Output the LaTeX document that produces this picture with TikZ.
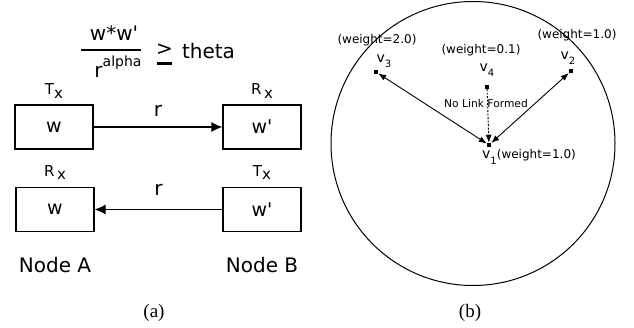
\documentclass[tikz,border=0pt]{standalone}
\usepackage{fontspec}
\setmainfont{Liberation Serif}
\setsansfont{DejaVu Sans}
\usepackage{tikz}
\usetikzlibrary{arrows.meta}
\usetikzlibrary{positioning}
\tikzstyle{box}    = [rectangle, draw, line width=1.2pt, minimum width=78pt, minimum height=44pt, inner sep=0pt, font=\sffamily\fontsize{19}{19}\selectfont]
\tikzstyle{lbl}    = [inner sep=0pt, font=\sffamily\fontsize{20}{20}\selectfont]
\tikzstyle{tag}    = [inner sep=0pt, font=\sffamily\fontsize{15}{15}\selectfont]
\tikzstyle{line}   = [draw, line width=1.2pt, -{Latex[length=11pt,width=10pt]}]
\tikzstyle{vert}   = [rectangle, fill=black, minimum size=4pt, inner sep=0pt]
\tikzstyle{link}   = [draw, line width=0.9pt, {Latex[length=8pt,width=6pt]}-{Latex[length=8pt,width=6pt]}]
\tikzstyle{nolink} = [draw, line width=0.9pt, dash pattern=on 2pt off 1.5pt, -{Latex[length=8pt,width=6pt]}]
\tikzstyle{wt}     = [inner sep=0pt, font=\sffamily\fontsize{12}{12}\selectfont]
\tikzstyle{vname}  = [inner sep=0pt, font=\sffamily\fontsize{14}{14}\selectfont]
\tikzstyle{figcap} = [inner sep=0pt, font=\rmfamily\fontsize{19}{19}\selectfont]
\newcommand{\trx}[2]{#1\raisebox{-0.45ex}{#2}}
\newcommand{\vsub}[2]{#1\raisebox{-0.7ex}{\fontsize{10}{10}\selectfont #2}}

\begin{document}
\begin{tikzpicture}[x=1pt, y=-1pt]
	\useasboundingbox (0,0) rectangle (634,328);
	% (a) the two nodes
	\node [lbl] (num) at (114,33) {w*w\textquotesingle};
	\node [lbl] (den) at (118,67) {r\raisebox{11pt}{\fontsize{14}{14}\selectfont alpha}};
	\draw [line width=1.5pt] (81,50) -- (141,50);
	\node [lbl] (geq) at (164.5,50) {>};
	\draw [line width=3pt] (157,63.5) -- (172,63.5);
	\node [lbl] (theta) at (208.5,51) {theta};
	\node [box] (a1) at (54,127) {w};
	\node [box, right of=a1, node distance=208pt] (b1) {w\textquotesingle};
	\node [box] (a2) at (55,209.5) {w};
	\node [box, right of=a2, node distance=207pt] (b2) {w\textquotesingle};
	\path [line] (a1) -- node [lbl, above=10pt] (r1) {r} (b1);
	\path [line] (b2) -- node [lbl, above=13pt] (r2) {r} (a2);
	\node [tag, above of=a1, node distance=36pt] (tx1) {\trx{T}{x}};
	\node [tag, above of=b1, node distance=36pt] (rx1) {\trx{R\,}{x}};
	\node [tag, above of=a2, node distance=37pt] (rx2) {\trx{R\,}{x}};
	\node [tag, above of=b2, node distance=37pt] (tx2) {\trx{T}{x}};
	\node [lbl, below of=a2, node distance=56pt] (nA) {Node A};
	\node [lbl, below of=b2, node distance=56pt] (nB) {Node B};
	\node [figcap] (capa) at (154,313) {(a)};
	% (b) the range circle
	\draw [line width=1pt] (473,143.5) circle (142);
	\node [vert] (v1) at (489,145) {};
	\node [vert] (v2) at (571,71) {};
	\node [vert] (v3) at (376,72) {};
	\node [vert] (v4) at (487,87) {};
	\path [link] (v1) -- (v3);
	\path [link] (v1) -- (v2);
	\path [nolink] (v4) -- (v1);
	\node [vname] (n3) at (384,61) {\vsub{v}{3}};
	\node [vname] (n4) at (487,70) {\vsub{v}{4}};
	\node [vname] (n2) at (568,58) {\vsub{v}{2}};
	\node [wt] (w3) at (377,40) {(weight=2.0)};
	\node [wt] (w4) at (481,50) {(weight=0.1)};
	\node [wt] (w2) at (577,35) {(weight=1.0)};
	\node [vname, anchor=west] (n1) at (482,157) {\vsub{v}{1}{\fontsize{12}{12}\selectfont(weight=1.0)}};
	\node [inner sep=0pt, font=\sffamily\fontsize{10.7}{10.7}\selectfont] (nolbl) at (486,104) {No Link Formed};
	\node [figcap] (capb) at (470,313) {(b)};
\end{tikzpicture}
\end{document}
